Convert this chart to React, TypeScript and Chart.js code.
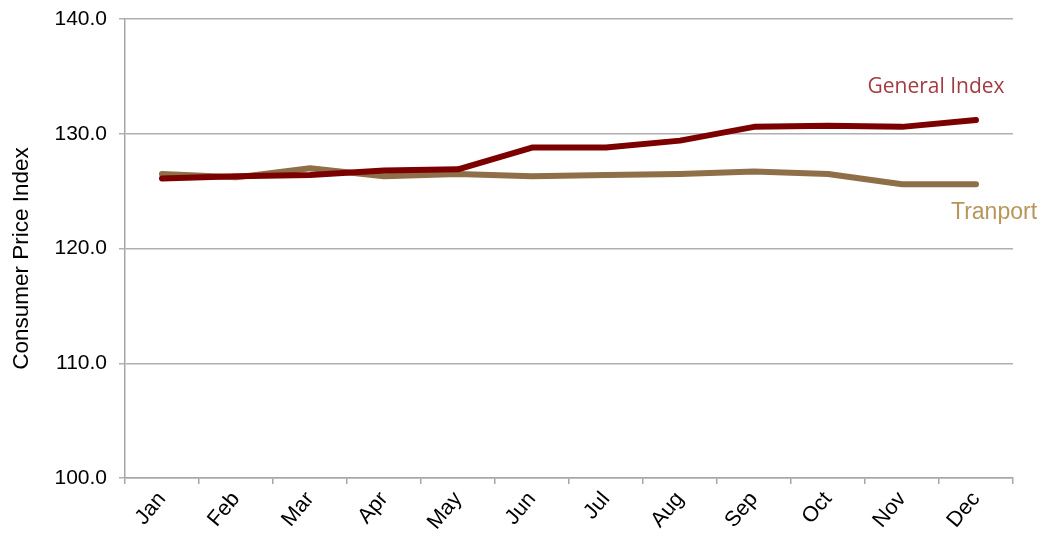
import React, { useEffect, useRef } from "react";
import { Chart, registerables } from "chart.js";

Chart.register(...registerables);

const months = ["Jan", "Feb", "Mar", "Apr", "May", "Jun", "Jul", "Aug", "Sep", "Oct", "Nov", "Dec"];
const generalIndex = [126.1, 126.3, 126.4, 126.8, 126.9, 128.8, 128.8, 129.4, 130.6, 130.7, 130.6, 131.2];
const transport = [126.5, 126.2, 127.0, 126.3, 126.5, 126.3, 126.4, 126.5, 126.7, 126.5, 125.6, 125.6];
const yTicks = [100, 110, 120, 130, 140];
const yTitle = "Consumer Price Index";

// Series names drawn next to the last point of each line
const endLabels = [
  { text: "General Index", color: "#a33b42", font: "21px 'Open Sans', sans-serif", dx: -40, dy: -33 },
  { text: "Tranport", color: "#b8965a", font: "23px 'Liberation Sans', Arial, sans-serif", dx: 18, dy: 28 },
];

const endLabelPlugin = {
  id: "endLabels",
  afterDatasetsDraw(chart: any) {
    const ctx = chart.ctx;
    ctx.save();
    endLabels.forEach((lbl, i) => {
      const meta = chart.getDatasetMeta(i);
      const pt = meta.data[meta.data.length - 1];
      if (!pt) return;
      ctx.font = lbl.font;
      ctx.fillStyle = lbl.color;
      ctx.textAlign = "center";
      ctx.textBaseline = "middle";
      ctx.fillText(lbl.text, pt.x + lbl.dx, pt.y + lbl.dy);
    });
    ctx.restore();
  },
};

// Vertical axis title, placed a little below the middle of the plot
const yTitlePlugin = {
  id: "yTitle",
  afterDraw(chart: any) {
    const { ctx, chartArea } = chart;
    ctx.save();
    ctx.translate(22, (chartArea.top + chartArea.bottom) / 2 + 10);
    ctx.rotate(-Math.PI / 2);
    ctx.font = "22.5px 'Liberation Sans', Arial, sans-serif";
    ctx.fillStyle = "#000";
    ctx.textAlign = "center";
    ctx.textBaseline = "middle";
    ctx.fillText(yTitle, 0, 0);
    ctx.restore();
  },
};

export default function App() {
  const canvasRef = useRef<HTMLCanvasElement>(null);

  useEffect(() => {
    if (!canvasRef.current) return;
    const chart = new Chart(canvasRef.current, {
      type: "line",
      data: {
        labels: months,
        datasets: [
          {
            label: "General Index",
            data: generalIndex,
            borderColor: "#7d0000",
            borderWidth: 6,
            pointRadius: 0,
            tension: 0,
            borderCapStyle: "round",
            borderJoinStyle: "round",
          },
          {
            label: "Tranport",
            data: transport,
            borderColor: "#8e6f47",
            borderWidth: 6,
            pointRadius: 0,
            tension: 0,
            borderCapStyle: "round",
            borderJoinStyle: "round",
          },
        ],
      },
      options: {
        animation: false,
        responsive: true,
        maintainAspectRatio: false,
        layout: { padding: { top: 19, right: 33, left: 0, bottom: 0 } },
        plugins: {
          legend: { display: false },
          tooltip: { enabled: false },
        },
        scales: {
          x: {
            type: "category",
            offset: true,
            afterFit(scale: any) {
              scale.height = 60;
            },
            grid: {
              display: true,
              offset: true,
              drawOnChartArea: false,
              drawTicks: true,
              tickLength: 6,
              color: "#a6a6a6",
              lineWidth: 1.5,
            },
            border: { display: true, color: "#a6a6a6", width: 1.5 },
            ticks: {
              color: "#000",
              font: { family: "'Liberation Sans', Arial, sans-serif", size: 21.5 },
              minRotation: 50,
              maxRotation: 50,
              padding: 3,
              autoSkip: false,
            },
          },
          y: {
            min: 100,
            max: 140,
            afterFit(scale: any) {
              scale.width = 125;
              scale.paddingTop = 0;
              scale.paddingBottom = 0;
            },
            afterBuildTicks(scale: any) {
              scale.ticks = yTicks.map((v) => ({ value: v }));
            },
            grid: {
              color: "#b0b0b0",
              lineWidth: 1.5,
              tickLength: 6,
            },
            border: { display: true, color: "#a6a6a6", width: 1.5 },
            ticks: {
              color: "#000",
              font: { family: "'Liberation Sans', Arial, sans-serif", size: 21 },
              padding: 12,
              callback: (v: any) => Number(v).toFixed(1),
            },
            title: { display: false },
          },
        },
      },
      plugins: [endLabelPlugin, yTitlePlugin],
    });
    return () => chart.destroy();
  }, []);

  return (
    <div style={{ position: "fixed", left: 0, top: 0, width: 1046, height: 538, background: "#fff" }}>
      <canvas ref={canvasRef} />
    </div>
  );
}
